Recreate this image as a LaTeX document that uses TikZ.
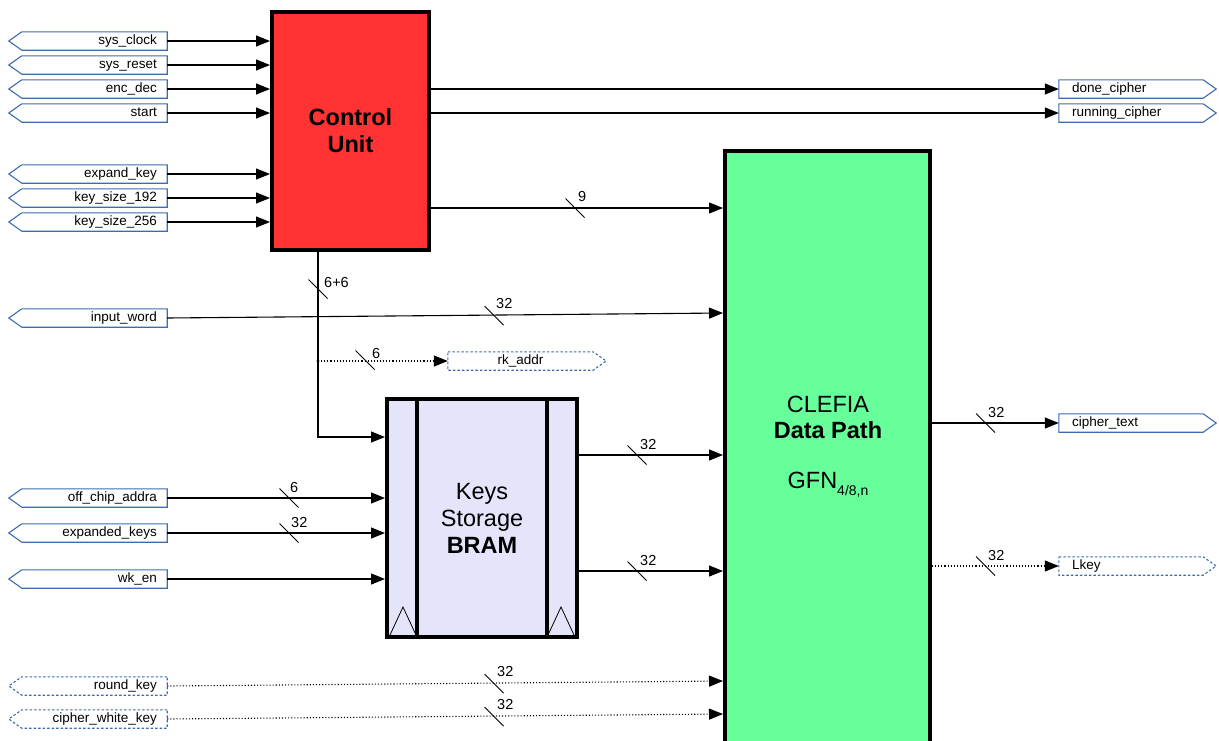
\documentclass[tikz,border=0pt]{standalone}
\usepackage{fontspec}
\setmainfont{Liberation Sans}
\usetikzlibrary{arrows.meta}
\definecolor{portblue}{RGB}{61,107,175}
\definecolor{cured}{RGB}{255,51,51}
\definecolor{dpgreen}{RGB}{102,255,153}
\definecolor{bramfill}{RGB}{228,228,250}
\tikzset{
  wire/.style={line width=1.1pt, draw=black, -{Triangle[length=14pt,width=11pt]}},
  dotwire/.style={wire, dotted},
  slashline/.style={line width=0.8pt, draw=black, solid, -},
  buslab/.style={anchor=west, inner sep=0pt, font=\fontsize{14.5}{16}\selectfont},
  portline/.style={draw=portblue, line width=1.1pt},
  dportline/.style={portline, dash pattern=on 2.5pt off 2pt},
  portfont/.style={font=\fontsize{13.5}{15}\selectfont, text height=9.8pt, text depth=3.2pt,
    inner ysep=0pt, minimum height=18pt},
  inbody/.style={portfont, text width=125pt, align=right, inner xsep=10pt},
  outbody/.style={portfont, text width=118pt, align=left, inner xsep=13pt},
  midbody/.style={portfont, text width=125pt, align=center, inner xsep=10pt},
  bigbox/.style={draw=black, line width=4pt, inner sep=0pt},
  bigtext/.style={font=\fontsize{23.5}{27}\selectfont, align=center, inner sep=0pt},
}
\newcommand\inport[4][portline]{%
  \node[inbody] (#2) at (94.5,#3) {#4};
  \draw[#1] (#2.north east) -- (#2.north west) -- ([xshift=-13pt]#2.west)
    -- (#2.south west) -- (#2.south east) -- cycle;}
\newcommand\outport[5][portline]{%
  \node[outbody] (#2) at (#3,#4) {#5};
  \draw[#1] (#2.north west) -- (#2.north east) -- ([xshift=13pt]#2.east)
    -- (#2.south east) -- (#2.south west) -- cycle;}
\newcommand\busmark[4][3,-11]{%
  \draw[slashline] ([shift={(-9.5,-9.5)}]#2,#3) -- ([shift={(9.5,9.5)}]#2,#3);
  \node[buslab] at ([shift={(#1)}]#2,#3) {#4};}
\begin{document}
\begin{tikzpicture}[x=1pt,y=-1pt]
\useasboundingbox (0,0) rectangle (1219,740);
\clip (0,0) rectangle (1219,740);

% main blocks
\node[bigbox, fill=cured, minimum width=157pt, minimum height=238pt] (cu) at (350.5,131) {};
\node[bigtext] (cutext) at (350.5,131) {\textbf{Control}\\\textbf{Unit}};

\node[bigbox, fill=dpgreen, minimum width=205pt, minimum height=600pt] (dp) at (827.5,451) {};
\node[bigtext] (dpt1) at (828,404) {CLEFIA};
\node[bigtext] (dpt2) at (828,430) {\textbf{Data Path}};
\node[bigtext] (dpt3) at (828,485) {GFN\raisebox{-7pt}{\fontsize{14}{15}\selectfont 4/8,n}};

\node[bigbox, fill=bramfill, minimum width=190pt, minimum height=238pt] (ks) at (482,518) {};
\draw[line width=4pt] ([xshift=32pt]ks.north west) -- ([xshift=32pt]ks.south west);
\draw[line width=4pt] ([xshift=-32pt]ks.north east) -- ([xshift=-32pt]ks.south east);
\draw[line width=0.8pt] (390,635) -- (403,607) -- (416,635);
\draw[line width=0.8pt] (548,635) -- (561,607) -- (574,635);
\node[bigtext] (kstext) at (482,518) {Keys\\Storage\\\textbf{BRAM}};

% input ports
\inport{sys_clock}{41}{sys\_clock}
\inport{sys_reset}{65}{sys\_reset}
\inport{enc_dec}{89}{enc\_dec}
\inport{start}{113}{start}
\inport{expand_key}{174}{expand\_key}
\inport{key_size_192}{198}{key\_size\_192}
\inport{key_size_256}{222}{key\_size\_256}
\inport{input_word}{318}{input\_word}
\inport{off_chip_addra}{498}{off\_chip\_addra}
\inport{expanded_keys}{533}{expanded\_keys}
\inport{wk_en}{579}{wk\_en}
\inport[dportline]{round_key}{686}{round\_key}
\inport[dportline]{cipher_white_key}{719}{cipher\_white\_key}

% output ports
\outport{done_cipher}{1131}{89}{done\_cipher}
\outport{running_cipher}{1131}{113}{running\_cipher}
\outport{cipher_text}{1131}{423}{cipher\_text}
\outport[dportline]{Lkey}{1131}{566}{Lkey}
\node[midbody] (rk_addr) at (520.5,361) {rk\_addr};
\draw[dportline] (rk_addr.north west) -- (rk_addr.north east) -- ([xshift=13pt]rk_addr.east)
    -- (rk_addr.south east) -- (rk_addr.south west) -- cycle;

% wires to control unit
\foreach \p in {sys_clock,sys_reset,enc_dec,start,expand_key,key_size_192,key_size_256}
  \draw[wire] (\p.east) -- (\p.east -| cu.west);

% control unit outputs
\draw[wire] (done_cipher.west -| cu.east) -- (done_cipher.west);
\draw[wire] (running_cipher.west -| cu.east) -- (running_cipher.west);
\draw[wire] ([yshift=-77pt]cu.east) coordinate (c9) -- (c9 -| dp.west);
\busmark{575}{208}{9}

% 6+6 bus
\draw[wire] ([xshift=-32.5pt]cu.south) |- ([yshift=81pt]ks.west);
\busmark[6,-6]{318}{289}{6+6}
\coordinate (tap) at ([xshift=-32.5pt]cu.south |- rk_addr.west);
\fill (tap) circle (1.6pt);
\draw[dotwire] (tap) -- (rk_addr.west);
\busmark[7,-6]{365}{360}{6}

% input word
\draw[wire] (input_word.east) -- ([yshift=138pt]dp.west);
\busmark[2,-12]{494}{315.5}{32}

% keys storage inputs
\draw[wire] (off_chip_addra.east) -- (off_chip_addra.east -| ks.west);
\busmark[1,-11]{289}{498}{6}
\draw[wire] (expanded_keys.east) -- (expanded_keys.east -| ks.west);
\busmark[2,-11]{289}{533}{32}
\draw[wire] (wk_en.east) -- (wk_en.east -| ks.west);

% keys storage outputs
\draw[wire] ([yshift=63pt]ks.east) coordinate (k1) -- (k1 -| dp.west);
\busmark{637}{455}{32}
\draw[wire] ([yshift=-53pt]ks.east) coordinate (k2) -- (k2 -| dp.west);
\busmark{637}{571}{32}

% round key inputs
\draw[dotwire] (round_key.east) -- ([yshift=-230pt]dp.west);
\busmark[3,-12]{494}{683.5}{32}
\draw[dotwire] (cipher_white_key.east) -- ([yshift=-263pt]dp.west);
\busmark[3,-12]{494}{716.5}{32}

% data path outputs
\draw[wire] (cipher_text.west -| dp.east) -- (cipher_text.west);
\busmark[2.5,-11]{985.5}{423}{32}
\draw[dotwire] (Lkey.west -| dp.east) -- (Lkey.west);
\busmark[2.5,-11]{985.5}{566}{32}
\end{tikzpicture}
\end{document}
